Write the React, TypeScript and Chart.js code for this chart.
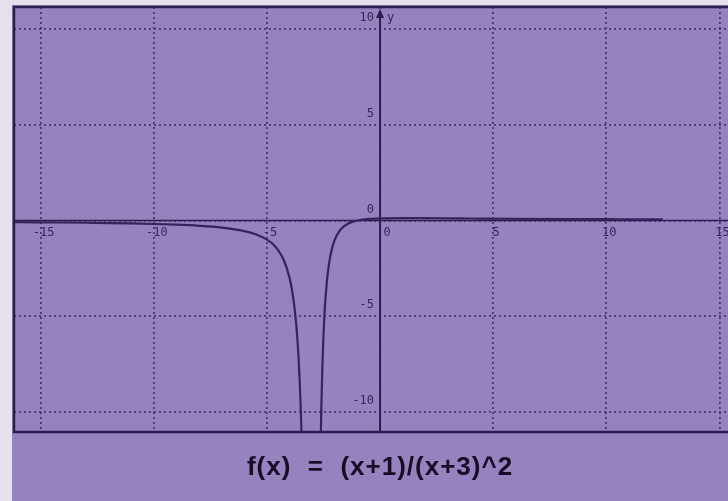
import React, { useEffect, useRef } from "react";
import { Chart, registerables } from "chart.js";
Chart.register(...registerables);

// Curve samples (null = break at the vertical asymptote)
const xValues = [
  -16.2, -16, -15, -14, -13, -12, -11, -10, -9, -8, -7, -6, -5.5, -5, -4.75, -4.5, -4.25, -4,
  -3.9, -3.8, -3.75, -3.7, -3.65, -3.6, -3.55, -3.5, -3.45,
  -3.0,
  -2.65, -2.6, -2.55, -2.5, -2.45, -2.4, -2.3, -2.2, -2.1, -2, -1.8, -1.6, -1.4, -1.2, -1,
  -0.5, 0, 1, 2, 3, 4, 6, 8, 10, 12.5,
];
const yValues: (number | null)[] = [
  -0.088, -0.089, -0.097, -0.107, -0.12, -0.136, -0.156, -0.184, -0.222, -0.28, -0.375, -0.556, -0.72, -1, -1.22, -1.56, -2.08, -3,
  -3.58, -4.38, -4.89, -5.51, -6.27, -7.22, -8.43, -10, -12.1,
  null,
  -13.5, -10, -7.65, -6, -4.75, -3.89, -2.65, -1.875, -1.36, -1, -0.556, -0.306, -0.156, -0.062, 0,
  0.08, 0.111, 0.125, 0.12, 0.111, 0.102, 0.086, 0.074, 0.065, 0.056,
];

const xTickValues = [-15, -10, -5, 0, 5, 10, 15];
const xTickLabels = ["-15", "-10", "-5", "0", "5", "10", "15"];
const yTickValues = [-10, -5, 0, 5, 10];
const yTickLabels = ["-10", "-5", "0", "5", "10"];
const axisName = "y";
const formula = "f(x)  =  (x+1)/(x+3)^2";

const X_MIN = -16.18;
const X_MAX = 15.38;
const Y_MIN = -11.05;
const Y_MAX = 11.15;

const PURPLE = "rgb(148,131,190)";
const MARGIN = "rgb(228,224,236)";
const DARK = "rgb(44,30,78)";
const GRID = "rgba(54,36,96,0.8)";
const LABEL = "rgb(54,40,90)";

export default function App() {
  const canvasRef = useRef<HTMLCanvasElement | null>(null);

  useEffect(() => {
    const canvas = canvasRef.current;
    if (!canvas) return;

    const decor = {
      id: "decor",
      beforeDraw(chart: any) {
        const { ctx, width, height } = chart;
        ctx.save();
        ctx.fillStyle = MARGIN;
        ctx.fillRect(0, 0, width, height);
        ctx.fillStyle = PURPLE;
        ctx.fillRect(12, 5, width - 12, height - 5);
        ctx.restore();
      },
      beforeDatasetsDraw(chart: any) {
        const { ctx, chartArea } = chart;
        const xs = chart.scales.x;
        const ys = chart.scales.y;
        const x0 = xs.getPixelForValue(0);
        const y0 = ys.getPixelForValue(0);
        ctx.save();
        ctx.strokeStyle = DARK;
        // x axis
        ctx.lineWidth = 1.6;
        ctx.beginPath();
        ctx.moveTo(chartArea.left, y0);
        ctx.lineTo(chartArea.right, y0);
        ctx.stroke();
        // y axis
        ctx.lineWidth = 2;
        ctx.beginPath();
        ctx.moveTo(x0, chartArea.top + 4);
        ctx.lineTo(x0, chartArea.bottom);
        ctx.stroke();
        // arrow head
        ctx.fillStyle = DARK;
        ctx.beginPath();
        ctx.moveTo(x0, chartArea.top + 2);
        ctx.lineTo(x0 - 4, chartArea.top + 11);
        ctx.lineTo(x0 + 4, chartArea.top + 11);
        ctx.closePath();
        ctx.fill();

        // tick labels
        ctx.fillStyle = LABEL;
        ctx.font = "12px 'DejaVu Sans Mono'";
        ctx.textBaseline = "middle";
        ctx.textAlign = "center";
        xTickValues.forEach((v, i) => {
          const px = xs.getPixelForValue(v) + (v === 0 ? 7 : 3);
          ctx.fillText(xTickLabels[i], px, y0 + 12);
        });
        ctx.textAlign = "right";
        yTickValues.forEach((v, i) => {
          const py = ys.getPixelForValue(v) - 11;
          ctx.fillText(yTickLabels[i], x0 - 6, py);
        });
        ctx.textAlign = "left";
        ctx.fillText(axisName, x0 + 7, ys.getPixelForValue(10) - 11);
        ctx.restore();
      },
      afterDraw(chart: any) {
        const { ctx, chartArea } = chart;
        ctx.save();
        ctx.strokeStyle = DARK;
        ctx.lineWidth = 2.5;
        ctx.strokeRect(chartArea.left, chartArea.top, chartArea.right - chartArea.left + 4, chartArea.bottom - chartArea.top);
        ctx.fillStyle = "rgb(22,12,38)";
        ctx.font = "bold 26px 'Liberation Sans'";
        try {
          (ctx as any).letterSpacing = "1px";
        } catch (e) {}
        ctx.textAlign = "center";
        ctx.textBaseline = "middle";
        ctx.fillText(formula, 380, chartArea.bottom + 36);
        ctx.restore();
      },
    };

    const points = xValues.map((x, i) => ({ x, y: yValues[i] }));

    const chart = new Chart(canvas, {
      type: "scatter",
      data: {
        datasets: [
          {
            data: points as any,
            showLine: true,
            borderColor: "rgb(52,36,92)",
            borderWidth: 2.2,
            pointRadius: 0,
            spanGaps: false,
            cubicInterpolationMode: "monotone",
          },
        ],
      },
      options: {
        animation: false,
        responsive: false,
        devicePixelRatio: 1,
        layout: { padding: { left: 14, top: 7, right: 0, bottom: 69 } },
        plugins: { legend: { display: false }, tooltip: { enabled: false }, title: { display: false } },
        scales: {
          x: {
            type: "linear",
            min: X_MIN,
            max: X_MAX,
            afterBuildTicks: (s: any) => {
              s.ticks = xTickValues.map((v) => ({ value: v }));
            },
            ticks: { display: false },
            grid: { color: GRID, lineWidth: 1.8, drawTicks: false },
            border: { display: false, dash: [2, 3] },
          },
          y: {
            type: "linear",
            min: Y_MIN,
            max: Y_MAX,
            afterBuildTicks: (s: any) => {
              s.ticks = yTickValues.map((v) => ({ value: v }));
            },
            ticks: { display: false },
            grid: { color: GRID, lineWidth: 1.8, drawTicks: false },
            border: { display: false, dash: [2, 3] },
          },
        },
      },
      plugins: [decor],
    });

    return () => chart.destroy();
  }, []);

  return (
    <div style={{ position: "absolute", left: 0, top: 0, width: 728, height: 501 }}>
      <canvas ref={canvasRef} width={728} height={501} />
    </div>
  );
}
